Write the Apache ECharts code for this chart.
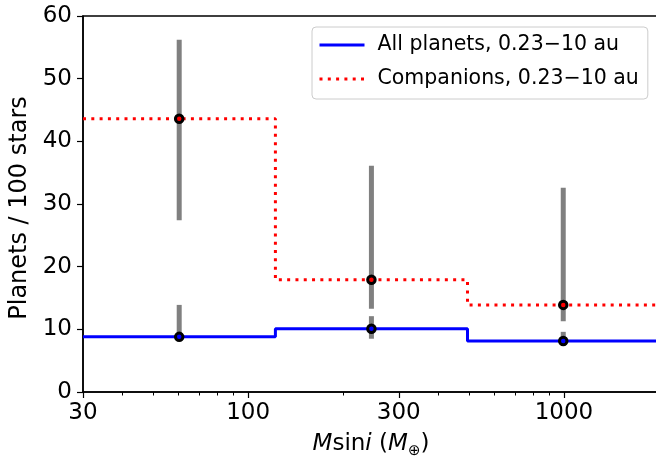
<!DOCTYPE html>
<html>
<head>
<meta charset="utf-8">
<script src="https://cdn.jsdelivr.net/npm/echarts@6/dist/echarts.min.js"></script>
<style>
html,body{margin:0;padding:0;background:#fff;}
#chart{width:656px;height:457px;}
</style>
</head>
<body>
<div id="chart"></div>
<script>
// ---- data ----
const binEdges = [30, 122, 495, 2000];
const binCenters = [60.5, 245.7, 995];
const allPlanets = [8.8, 10.1, 8.15];
const allLow = [8.3, 8.5, 7.8];
const allHigh = [13.9, 12.1, 9.6];
const companions = [43.6, 17.9, 13.9];
const compLow = [27.4, 13.3, 11.3];
const compHigh = [56.2, 36.1, 32.6];
const xTickLabels = [30, 100, 300, 1000];
const xMinorTicks = [40, 50, 60, 70, 80, 90, 200, 400, 500, 600, 700, 800, 900, 2000];

function stepData(edges, vals) {
  const out = [];
  for (let i = 0; i < vals.length; i++) {
    out.push([edges[i], vals[i]]);
    out.push([edges[i + 1], vals[i]]);
  }
  return out;
}
function errData(centers, lo, hi) {
  return centers.map((c, i) => [c, lo[i], hi[i]]);
}
function ptData(centers, vals) {
  return centers.map((c, i) => [c, vals[i]]);
}

const FONT = 'DejaVu Sans';
const chart = echarts.init(document.getElementById('chart'), null, {renderer: 'canvas'});

function errRender(params, api) {
  const p1 = api.coord([api.value(0), api.value(1)]);
  const p2 = api.coord([api.value(0), api.value(2)]);
  return {
    type: 'line',
    shape: {x1: p1[0], y1: p1[1], x2: p2[0], y2: p2[1]},
    style: {stroke: '#808080', lineWidth: 5}
  };
}

const option = {
  animation: false,
  backgroundColor: '#ffffff',
  grid: {
    left: 83, top: 16, right: -3, bottom: 65,
    outerBoundsMode: 'none', containLabel: false,
    show: true, borderColor: '#000', borderWidth: 1.5, backgroundColor: 'transparent'
  },
  legend: {
    left: 312, top: 27,
    orient: 'vertical',
    data: ['All planets, 0.23\u221210 au', 'Companions, 0.23\u221210 au'],
    itemWidth: 45, itemHeight: 14, itemGap: 10,
    padding: [6, 9, 8, 6],
    itemStyle: {opacity: 0},
    lineStyle: {width: 3},
    backgroundColor: 'rgba(255,255,255,0.8)',
    borderColor: '#cccccc', borderWidth: 1, borderRadius: 4,
    textStyle: {fontFamily: FONT, fontSize: 20.5, color: '#000', lineHeight: 24, padding: [0, 0, 0, 8]}
  },
  xAxis: [{
    type: 'log', logBase: 10, min: binEdges[0], max: binEdges[3],
    position: 'bottom',
    name: '{it|M}sin{it|i} ({it|M}{sub|\u2295})',
    nameLocation: 'middle', nameGap: 38,
    nameTextStyle: {
      fontFamily: FONT, fontSize: 23, color: '#000',
      rich: {
        it: {fontFamily: FONT, fontSize: 23, fontStyle: 'italic', color: '#000'},
        sub: {fontFamily: FONT, fontSize: 15, color: '#000', padding: [14, 0, 0, 0]}
      }
    },
    axisLine: {show: true, lineStyle: {color: '#000', width: 1.5}},
    axisTick: {show: true, inside: false, length: 6, lineStyle: {color: '#000', width: 1.2}, customValues: xTickLabels},
    axisLabel: {show: true, customValues: xTickLabels, fontFamily: FONT, fontSize: 23, color: '#000', margin: 10,
      formatter: v => String(Math.round(v))},
    splitLine: {show: false},
    minorTick: {show: false}
  }, {
    type: 'log', logBase: 10, min: binEdges[0], max: binEdges[3],
    position: 'bottom', offset: 0,
    axisLine: {show: false},
    axisTick: {show: true, inside: false, length: 3.5, lineStyle: {color: '#000', width: 1}, customValues: xMinorTicks},
    axisLabel: {show: false},
    splitLine: {show: false}
  }],
  yAxis: {
    type: 'value', min: 0, max: 60, interval: 10,
    name: 'Planets / 100 stars',
    nameLocation: 'middle', nameGap: 49, nameRotate: 90,
    nameTextStyle: {fontFamily: FONT, fontSize: 24, color: '#000', padding: [0, 8, 0, 0]},
    axisLine: {show: true, lineStyle: {color: '#000', width: 1.5}},
    axisTick: {show: true, inside: false, length: 6, lineStyle: {color: '#000', width: 1.2}},
    axisLabel: {fontFamily: FONT, fontSize: 23, color: '#000', margin: 11},
    splitLine: {show: false}
  },
  series: [
    {
      name: 'All planets, 0.23\u221210 au', type: 'line', xAxisIndex: 0,
      data: stepData(binEdges, allPlanets), symbol: 'none', showSymbol: false,
      lineStyle: {color: '#0000ff', width: 3}, itemStyle: {color: '#0000ff'}, z: 2
    },
    {
      name: 'Companions, 0.23\u221210 au', type: 'line', xAxisIndex: 0,
      data: stepData(binEdges, companions), symbol: 'none', showSymbol: false,
      lineStyle: {color: '#ff0000', width: 3, type: [3, 5.3], cap: 'butt'}, itemStyle: {color: '#ff0000'}, z: 2
    },
    {
      type: 'custom', xAxisIndex: 0, renderItem: errRender,
      encode: {x: 0, y: [1, 2]}, data: errData(binCenters, compLow, compHigh), z: 3, silent: true
    },
    {
      type: 'custom', xAxisIndex: 0, renderItem: errRender,
      encode: {x: 0, y: [1, 2]}, data: errData(binCenters, allLow, allHigh), z: 3, silent: true
    },
    {
      type: 'scatter', xAxisIndex: 0, data: ptData(binCenters, companions),
      symbol: 'circle', symbolSize: 7.5,
      itemStyle: {color: '#ff0000', borderColor: '#000', borderWidth: 3, opacity: 1}, z: 4
    },
    {
      type: 'scatter', xAxisIndex: 0, data: ptData(binCenters, allPlanets),
      symbol: 'circle', symbolSize: 7.5,
      itemStyle: {color: '#0000ff', borderColor: '#000', borderWidth: 3, opacity: 1}, z: 4
    }
  ]
};
chart.setOption(option);
</script>
</body>
</html>
